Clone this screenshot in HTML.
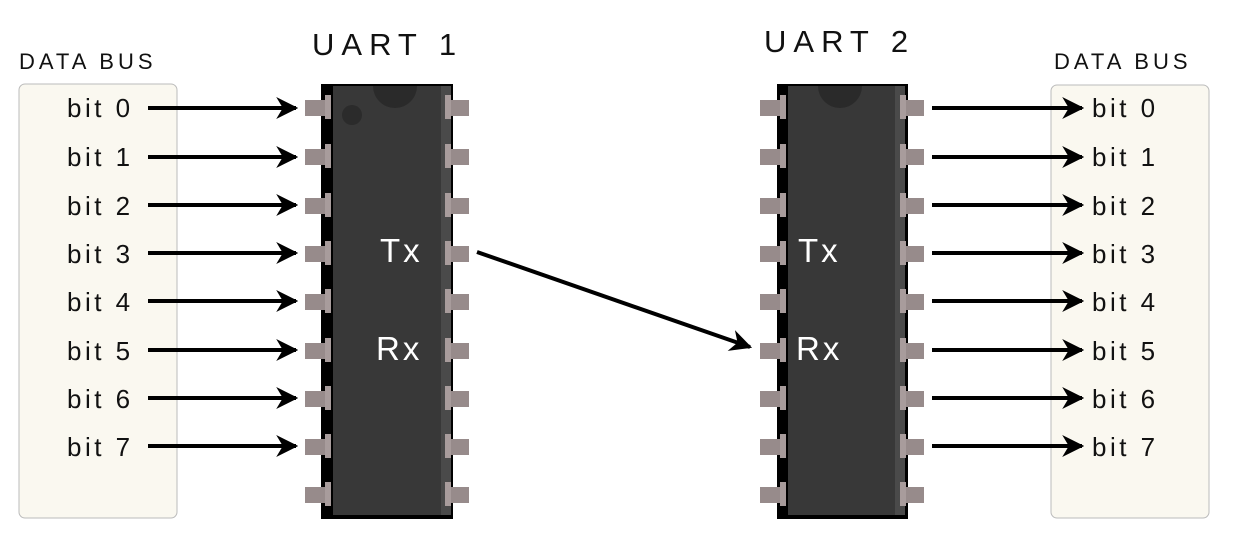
<!DOCTYPE html><html><head><style>body{margin:0;background:#fff}svg{display:block}text{font-family:"Liberation Sans",sans-serif}</style></head><body>
<svg width="1235" height="547" viewBox="0 0 1235 547" xmlns="http://www.w3.org/2000/svg">
<defs>
<marker id="ah" viewBox="0 0 20 20" refX="18" refY="10" markerWidth="22" markerHeight="22" markerUnits="userSpaceOnUse" orient="auto"><path d="M0,0 L20,10 L0,20 L6,10 Z" fill="#000"/></marker>
<g id="pinL"><rect x="0" y="-7" width="22" height="16" fill="#978b8b"/><rect x="20" y="-12" width="6" height="24" fill="#a89c9c"/></g>
<g id="pinR"><rect x="2" y="-7" width="22" height="16" fill="#978b8b"/><rect x="0" y="-12" width="6" height="24" fill="#a89c9c"/></g>
</defs>
<rect x="19" y="84" width="158" height="434" rx="6" fill="#faf8f0" stroke="#bbb"/>
<rect x="1051" y="85" width="158" height="433" rx="6" fill="#faf8f0" stroke="#bbb"/>
<g font-size="22" letter-spacing="4" fill="#111">
<text x="19" y="69">DATA BUS</text><text x="1054" y="69">DATA BUS</text>
</g>
<g font-size="31" letter-spacing="7" fill="#111"><text x="312" y="55">UART 1</text><text x="764" y="52">UART 2</text></g>
<rect x="321" y="84" width="132" height="435" fill="#000"/>
<rect x="333" y="86" width="108" height="429" fill="#383838"/>
<rect x="441" y="86" width="10" height="429" fill="#4a4a4a"/>
<path d="M373,86 A22,22 0 0 0 417,86 Z" fill="#2a2a2a"/>
<circle cx="352" cy="115" r="10" fill="#2b2b2b"/>
<rect x="777" y="84" width="131" height="435" fill="#000"/>
<rect x="788" y="86" width="107" height="429" fill="#383838"/>
<rect x="895" y="86" width="10" height="429" fill="#4a4a4a"/>
<path d="M818,86 A22,22 0 0 0 862,86 Z" fill="#2a2a2a"/>
<g>
<use href="#pinL" x="305" y="107"/><use href="#pinL" x="305" y="156"/><use href="#pinL" x="305" y="205"/><use href="#pinL" x="305" y="253"/><use href="#pinL" x="305" y="301"/><use href="#pinL" x="305" y="350"/><use href="#pinL" x="305" y="398"/><use href="#pinL" x="305" y="446"/><use href="#pinL" x="305" y="494"/>
<use href="#pinR" x="445" y="107"/><use href="#pinR" x="445" y="156"/><use href="#pinR" x="445" y="205"/><use href="#pinR" x="445" y="253"/><use href="#pinR" x="445" y="301"/><use href="#pinR" x="445" y="350"/><use href="#pinR" x="445" y="398"/><use href="#pinR" x="445" y="446"/><use href="#pinR" x="445" y="494"/>
<use href="#pinL" x="760" y="107"/><use href="#pinL" x="760" y="156"/><use href="#pinL" x="760" y="205"/><use href="#pinL" x="760" y="253"/><use href="#pinL" x="760" y="301"/><use href="#pinL" x="760" y="350"/><use href="#pinL" x="760" y="398"/><use href="#pinL" x="760" y="446"/><use href="#pinL" x="760" y="494"/>
<use href="#pinR" x="900" y="107"/><use href="#pinR" x="900" y="156"/><use href="#pinR" x="900" y="205"/><use href="#pinR" x="900" y="253"/><use href="#pinR" x="900" y="301"/><use href="#pinR" x="900" y="350"/><use href="#pinR" x="900" y="398"/><use href="#pinR" x="900" y="446"/><use href="#pinR" x="900" y="494"/>
</g>
<g stroke="#000" stroke-width="4" marker-end="url(#ah)">
<line x1="148" y1="108" x2="296" y2="108"/><line x1="148" y1="157" x2="296" y2="157"/><line x1="148" y1="205" x2="296" y2="205"/><line x1="148" y1="253" x2="296" y2="253"/><line x1="148" y1="301" x2="296" y2="301"/><line x1="148" y1="350" x2="296" y2="350"/><line x1="148" y1="398" x2="296" y2="398"/><line x1="148" y1="446" x2="296" y2="446"/>
<line x1="932" y1="108" x2="1082" y2="108"/><line x1="932" y1="157" x2="1082" y2="157"/><line x1="932" y1="205" x2="1082" y2="205"/><line x1="932" y1="253" x2="1082" y2="253"/><line x1="932" y1="301" x2="1082" y2="301"/><line x1="932" y1="350" x2="1082" y2="350"/><line x1="932" y1="398" x2="1082" y2="398"/><line x1="932" y1="446" x2="1082" y2="446"/>
<line x1="477" y1="252" x2="750" y2="347"/>
</g>
<g font-size="26" letter-spacing="3.5" fill="#111">
<text x="67" y="117">bit 0</text><text x="67" y="166">bit 1</text><text x="67" y="215">bit 2</text><text x="67" y="263">bit 3</text><text x="67" y="311">bit 4</text><text x="67" y="360">bit 5</text><text x="67" y="408">bit 6</text><text x="67" y="456">bit 7</text>
<text x="1092" y="117">bit 0</text><text x="1092" y="166">bit 1</text><text x="1092" y="215">bit 2</text><text x="1092" y="263">bit 3</text><text x="1092" y="311">bit 4</text><text x="1092" y="360">bit 5</text><text x="1092" y="408">bit 6</text><text x="1092" y="456">bit 7</text>
</g>
<g font-size="33" letter-spacing="3" fill="#fff">
<text x="380" y="262">Tx</text><text x="376" y="360">Rx</text>
<text x="798" y="262">Tx</text><text x="796" y="360">Rx</text>
</g>
</svg></body></html>
